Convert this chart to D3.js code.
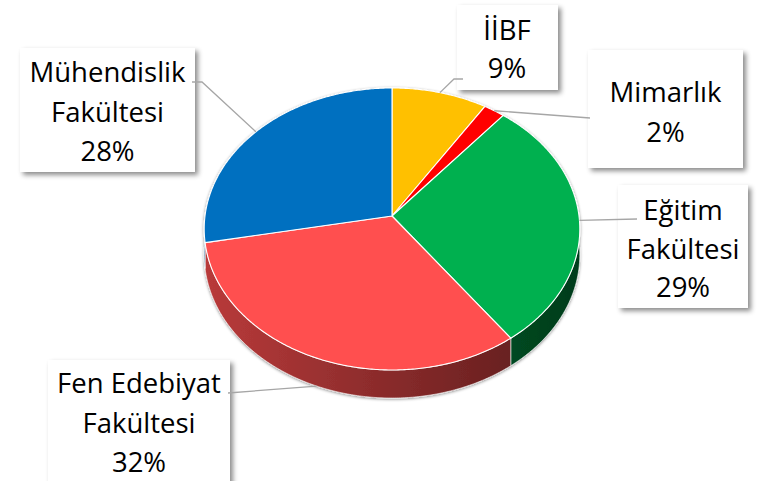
<!DOCTYPE html>
<html><head><meta charset="utf-8">
<script src="https://cdn.jsdelivr.net/npm/d3@7"></script>
<style>body{margin:0;background:#fff}svg{display:block}</style>
</head><body>
<script>
// ---- data ----
const categories = ["İİBF", "Mimarlık", "Eğitim Fakültesi", "Fen Edebiyat Fakültesi", "Mühendislik Fakültesi"];
const values = [9, 2, 29, 32, 28];
const labelLines = [["İİBF"], ["Mimarlık"], ["Eğitim", "Fakültesi"], ["Fen Edebiyat", "Fakültesi"], ["Mühendislik", "Fakültesi"]];
const colors = ["#FFC000", "#FF0000", "#00B050", "#FF5050", "#0070C0"];

// ---- layout ----
const W = 759, H = 481;
const CX = 392, CY = 216, S = 187, T = 139.8, K = 0.092, DEPTH = 25.5;
const boxes = [
  {x: 457, y: 5,   w: 101, h: 85,  tx: 507,   by: 40,  ls: 38},
  {x: 588, y: 50,  w: 155, h: 118, tx: 665.5, by: 102, ls: 40},
  {x: 618, y: 185, w: 130, h: 123, tx: 683,   by: 220, ls: 38.5},
  {x: 48,  y: 360, w: 182, h: 140, tx: 139,   by: 393, ls: 39.5},
  {x: 20,  y: 48,  w: 175, h: 124, tx: 107.5, by: 82,  ls: 39.5}
];
const leaderStart = [[463, 79, 454, 79], [590, 118, 590, 118], [637, 219, 637, 219], [228, 393, 228, 393], [192, 82, 202, 82]];

const svg = d3.select("body").append("svg").attr("width", W).attr("height", H);
const defs = svg.append("defs");
const f1 = defs.append("filter").attr("id", "boxsh").attr("x", "-20%").attr("y", "-20%").attr("width", "150%").attr("height", "150%");
f1.append("feDropShadow").attr("dx", 3).attr("dy", 3).attr("stdDeviation", 2.5).attr("flood-color", "#000").attr("flood-opacity", 0.45);
const f2 = defs.append("filter").attr("id", "piesh").attr("x", "-10%").attr("y", "-10%").attr("width", "120%").attr("height", "120%");
f2.append("feDropShadow").attr("dx", 0).attr("dy", 1).attr("stdDeviation", 1.5).attr("flood-color", "#000").attr("flood-opacity", 0.45);

function proj(a, bottom) {
  const u = Math.sin(a), v = -Math.cos(a);
  const den = 1 - K * v;
  return [CX + S * u / den, CY + T * v / den + (bottom ? DEPTH / den : 0)];
}
function arcPts(a0, a1, bottom) {
  const n = Math.max(2, Math.ceil((a1 - a0) / 0.01));
  return d3.range(n + 1).map(i => proj(a0 + (a1 - a0) * i / n, bottom));
}

const pie = d3.pie().sort(null).value(d => d);
const arcs = pie(values);
const total = d3.sum(values);
const line = d3.line();

// side gradients
arcs.forEach((d, i) => {
  const g = defs.append("linearGradient").attr("id", "side" + i)
    .attr("gradientUnits", "userSpaceOnUse")
    .attr("x1", CX - S).attr("x2", CX + S).attr("y1", 0).attr("y2", 0);
  g.append("stop").attr("offset", 0).attr("stop-color", d3.color(colors[i]).darker(0.9));
  g.append("stop").attr("offset", 1).attr("stop-color", d3.color(colors[i]).darker(3.0));
});

const pieG = svg.append("g").attr("filter", "url(#piesh)");
// side walls
pieG.selectAll("path.side").data(arcs).join("path").attr("class", "side")
  .attr("d", d => {
    const top = arcPts(d.startAngle, d.endAngle, false);
    const bot = arcPts(d.startAngle, d.endAngle, true).reverse();
    return line(top.concat(bot)) + "Z";
  })
  .attr("fill", (d, i) => `url(#side${i})`)
  .attr("stroke", "#fff").attr("stroke-width", 0.6).attr("stroke-linejoin", "round");
// top faces
pieG.selectAll("path.top").data(arcs).join("path").attr("class", "top")
  .attr("d", d => line([[CX, CY]].concat(arcPts(d.startAngle, d.endAngle, false))) + "Z")
  .attr("fill", (d, i) => colors[i])
  .attr("stroke", "#fff").attr("stroke-width", 1.1).attr("stroke-linejoin", "round");

// label boxes
svg.selectAll("rect.lbl").data(boxes).join("rect").attr("class", "lbl")
  .attr("x", d => d.x).attr("y", d => d.y).attr("width", d => d.w).attr("height", d => d.h)
  .attr("fill", "#fff").attr("filter", "url(#boxsh)");

// leader lines
arcs.forEach((d, i) => {
  const mid = (d.startAngle + d.endAngle) / 2;
  const front = -Math.cos(mid) > 0.5;
  const p = proj(mid, front);
  const s = leaderStart[i];
  svg.append("path")
    .attr("d", line([[s[0], s[1]], [s[2], s[3]], p]))
    .attr("fill", "none").attr("stroke", "#a6a6a6").attr("stroke-width", 1.3);
});

// label text
const fmt = d3.format(".0%");
arcs.forEach((d, i) => {
  const b = boxes[i];
  const lines = labelLines[i].concat([fmt(d.value / total)]);
  const t = svg.append("text").attr("text-anchor", "middle")
    .attr("font-family", "'Open Sans', sans-serif").attr("font-size", 27.5).attr("fill", "#000");
  lines.forEach((s, j) => t.append("tspan").attr("x", b.tx).attr("y", b.by + j * b.ls).text(s));
});
</script>
</body></html>
